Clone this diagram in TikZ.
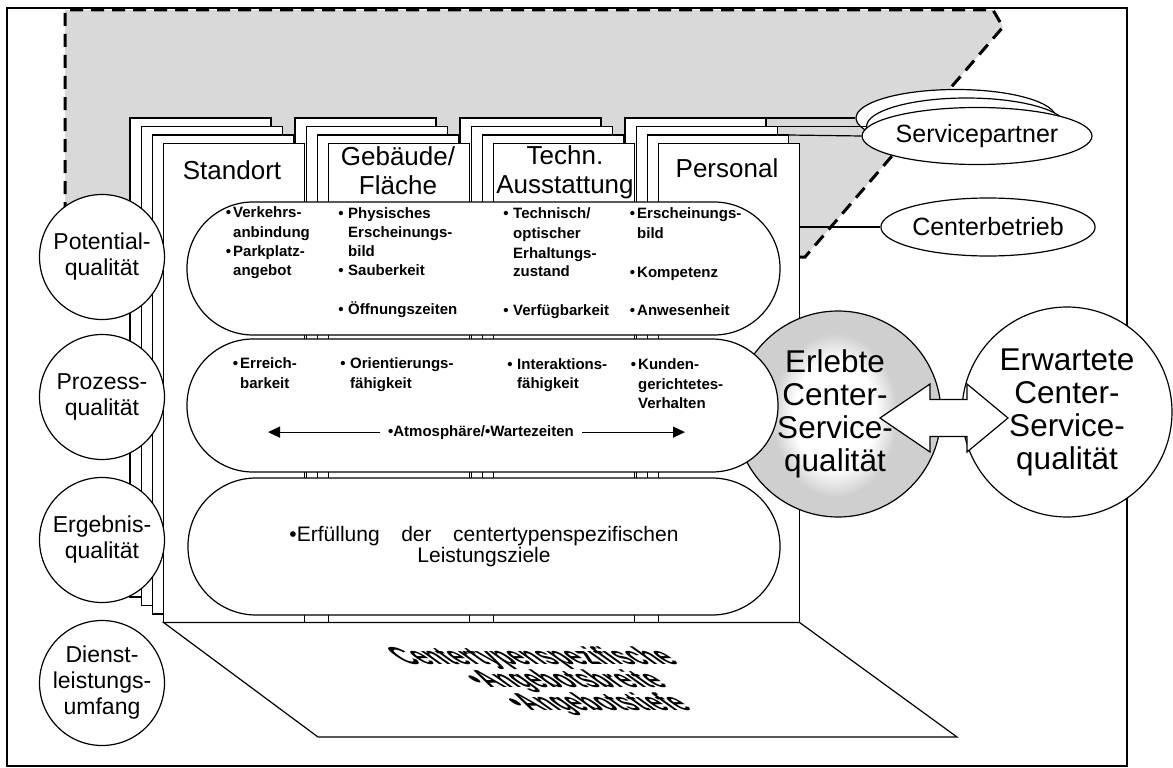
\documentclass[tikz,border=0pt]{standalone}
\usepackage{fontspec}
\setmainfont{Liberation Sans}
\usetikzlibrary{shapes.geometric,arrows.meta}
\definecolor{shadegray}{gray}{0.85}
\definecolor{circgray}{gray}{0.81}
\pgfdeclareradialshading{glow}{\pgfpoint{0bp}{0bp}}{color(0bp)=(white); color(16bp)=(white); color(24.5bp)=(circgray); color(50bp)=(circgray)}
\newcommand{\mybul}{\llap{\textbullet\hspace{2pt}}}
\newcommand{\mybulw}{\llap{\textbullet\hspace{4.5pt}}}
\begin{document}
\begin{tikzpicture}[x=1pt,y=-1pt,
  ln/.style={line width=1.2pt},
  card/.style={draw, fill=white, line width=1.2pt, line join=miter},
  pill/.style={draw, fill=white, line width=1.2pt, inner sep=0pt},
  sm/.style={font=\fontsize{15}{19}\selectfont\bfseries, anchor=base west, inner sep=0pt},
  hdr/.style={font=\fontsize{26}{29}\selectfont, align=center, inner sep=0pt},
  lcirc/.style={circle, draw, fill=white, line width=1.2pt, minimum size=125pt, inner sep=0pt, align=center, font=\fontsize{23}{26}\selectfont},
  ell/.style={ellipse, draw, fill=white, line width=1.2pt, minimum width=200pt, minimum height=57pt, inner sep=0pt, font=\fontsize{25}{28}\selectfont},
  big/.style={align=center, inner sep=0pt, font=\fontsize{31.5}{33}\selectfont},
  dashline/.style={line width=3pt, dash pattern=on 13pt off 8pt}
]
\useasboundingbox (0,0) rectangle (1173,768);
\fill[white] (0,0) rectangle (1173,768);

% shaded area and frame
\fill[shadegray] (65,10) -- (993,10) -- (1003,27) -- (805,257) -- (65,257) -- cycle;
\draw[ln] (7,8) rectangle (1127,766);
\draw[dashline] (65,257) -- (65,10) -- (993,10) -- (1003,27) -- (805,257) -- (799.6,257);

% stacked cards
\foreach \k in {0,1,2,3}{
  \foreach \c in {130,295,460,625}{
    \draw[card] ({\c+11.2*\k},{118+8.5*\k}) rectangle ++(141,479);
  }
}

% service partner / center operation
\coordinate (p0) at (766,118);
\coordinate (p1) at (777.2,126.5);
\coordinate (p2) at (788.4,135);
\coordinate (pf) at (799.6,227);
\node[ell] (sp0) at (956,118) {};
\node[ell] (sp1) at (966.5,126.5) {};
\node[ell] (sp2) at (977,136) {Servicepartner};
\draw[ln] (p0) -- (sp0.west);
\draw[ln] (p1) -- (sp1.west);
\draw[ln] (p2) -- (sp2.west);
\node[ell, minimum width=202pt, minimum height=58pt] (cb) at (988,227) {Centerbetrieb};
\draw[ln] (pf) -- (cb);

% floor
\draw[card] (163.6,622.5) -- (799.6,622.5) -- (957,737) -- (318,737) -- cycle;

% experienced quality circle
\node[circle, draw, fill=circgray, line width=1.2pt, minimum size=206pt, inner sep=0pt] (erl) at (838,414) {};
\shade[shading=glow] (835,415) ellipse [x radius=64, y radius=84];

% pills
\node[pill, rounded corners=66pt, minimum width=593pt, minimum height=133pt] (pa) at (483.5,268.5) {};
\node[pill, rounded corners=66pt, minimum width=591pt, minimum height=133pt] (pb) at (482.5,405.5) {};
\node[pill, rounded corners=68pt, minimum width=592pt, minimum height=137pt, align=center, font=\fontsize{21}{21.5}\selectfont] (pc) at (484,546.5) {\textbullet Erfüllung\hspace{0.75em} der\hspace{0.75em} centertypenspezifischen\\Leistungsziele};

% left circles
\node[lcirc] (pot) at (102,257) {Potential-\\qualität};
\node[lcirc] (proz) at (102,397) {Prozess-\\qualität};
\node[lcirc] (erg) at (102,540) {Ergebnis-\\qualität};
\node[lcirc] (dien) at (102,683) {Dienst-\\leistungs-\\umfang};

% expected quality circle and double arrow
\node[circle, draw, fill=white, line width=1.2pt, minimum size=210pt, big] (erw) at (1067,412) {Erwartete\\Center-\\Service-\\qualität};
\draw[ln, fill=white, line join=miter] (880,418) -- (930,384) -- (930,399.5) -- (967,399.5) -- (967,384) -- (1008,418) -- (967,452) -- (967,436.5) -- (930,436.5) -- (930,452) -- cycle;
\node[big] (erlt) at (835,414) {Erlebte\\Center-\\Service-\\qualität};

% headers
\node[hdr] (h1) at (232,170.5) {Standort};
\node[hdr] (h2) at (398,171) {Gebäude/\\Fläche};
\node[hdr] (h3) at (565,172.5) {Techn.\\Ausstattung};
\node[hdr] (h4) at (727,168.5) {Personal};

% pill 1 texts
\node[sm] (a1) at (233,217) {\mybul Verkehrs-};
\node[sm] (a2) at (233,237) {anbindung};
\node[sm] (a3) at (233,256) {\mybul Parkplatz-};
\node[sm] (a4) at (233,275) {angebot};
\node[sm] (b1) at (348,218) {\mybulw Physisches};
\node[sm] (b2) at (348,237) {Erscheinungs-};
\node[sm] (b3) at (348,256) {bild};
\node[sm] (b4) at (348,275) {\mybulw Sauberkeit};
\node[sm] (b5) at (348,314) {\mybulw Öffnungszeiten};
\node[sm] (c1) at (513,218) {\mybulw Technisch/};
\node[sm] (c2) at (513,238) {optischer};
\node[sm] (c3) at (513,258) {Erhaltungs-};
\node[sm] (c4) at (513,276) {zustand};
\node[sm] (c5) at (513,315) {\mybulw Verfügbarkeit};
\node[sm] (d1) at (637,218) {\mybul Erscheinungs-};
\node[sm] (d2) at (637,238) {bild};
\node[sm] (d3) at (637,277) {\mybul Kompetenz};
\node[sm] (d4) at (637,315) {\mybul Anwesenheit};

% pill 2 texts
\node[sm] (e1) at (240,368) {\mybul Erreich-};
\node[sm] (e2) at (240,388) {barkeit};
\node[sm] (f1) at (350,368) {\mybulw Orientierungs-};
\node[sm] (f2) at (350,388) {fähigkeit};
\node[sm] (g1) at (517,369) {\mybulw Interaktions-};
\node[sm] (g2) at (517,388) {fähigkeit};
\node[sm] (k1) at (638,369) {\mybul Kunden-};
\node[sm] (k2) at (638,389) {gerichtetes-};
\node[sm] (k3) at (638,408) {Verhalten};
\node[sm, anchor=base, inner xsep=8pt] (atm) at (481,436) {\textbullet Atmosphäre/\textbullet Wartezeiten};
\coordinate (al) at (268,431);
\coordinate (ar) at (685,431);
\draw[ln, -{Triangle[length=12pt,width=11pt]}] (atm.west) -- (atm.west -| al);
\draw[ln, -{Triangle[length=12pt,width=11pt]}] (atm.east) -- (atm.east -| ar);

% floor text
\begin{scope}[shift={(567,681)}, xslant=-1.4]
\node[transform shape, align=center, inner sep=0pt, font=\fontsize{24.5}{23}\selectfont\bfseries] (floortxt) at (0,0) {Centertypenspezifische\\\textbullet Angebotsbreite\\\textbullet Angebotstiefe};
\end{scope}
\end{tikzpicture}
\end{document}
